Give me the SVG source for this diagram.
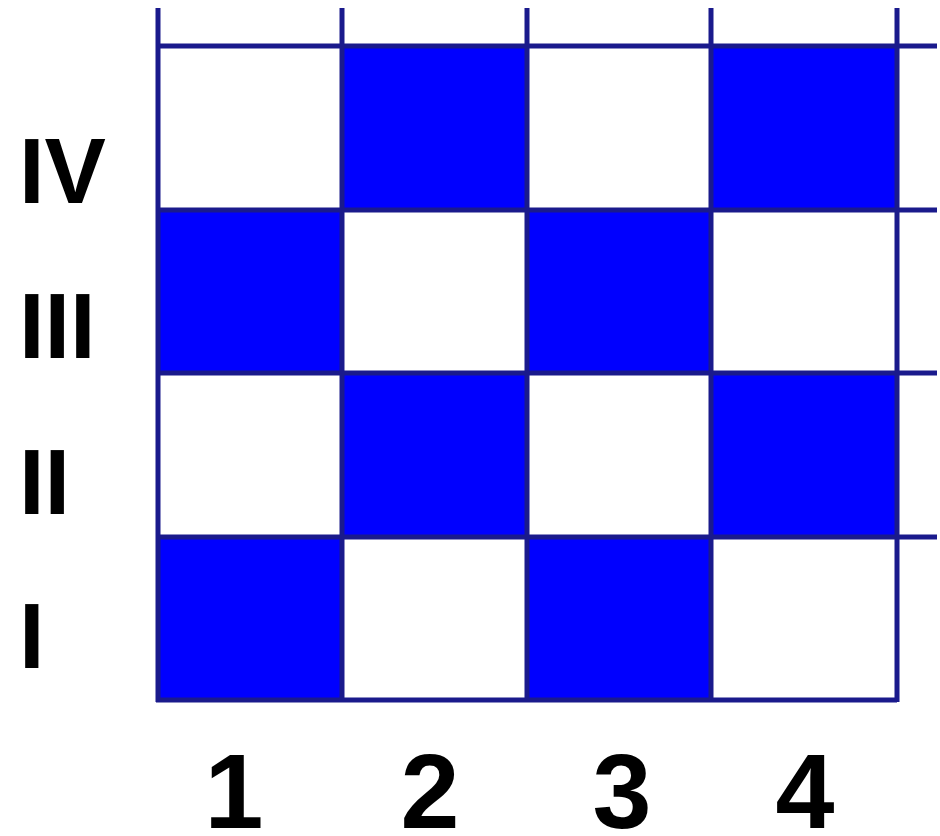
<svg xmlns="http://www.w3.org/2000/svg" width="940" height="836" viewBox="0 0 940 836">
<style>
.cell{fill:#0000ff}
.ln{stroke:#1a1a8c;stroke-width:5;fill:none}
.lbl{font-family:"Liberation Sans",Arial,sans-serif;font-weight:bold;fill:#000}
.row{font-size:92px}
.col{font-size:106px;text-anchor:middle}
</style>
<rect width="940" height="836" fill="#fff"/>
<g id="cells">
<rect class="cell" x="342" y="46" width="185" height="164"/>
<rect class="cell" x="711" y="46" width="186" height="164"/>
<rect class="cell" x="158" y="210" width="184" height="163"/>
<rect class="cell" x="527" y="210" width="184" height="163"/>
<rect class="cell" x="342" y="373" width="185" height="164"/>
<rect class="cell" x="711" y="373" width="186" height="164"/>
<rect class="cell" x="158" y="537" width="184" height="163"/>
<rect class="cell" x="527" y="537" width="184" height="163"/>
</g>
<g id="grid">
<path class="ln" d="M158 8V702M342 8V702M527 8V702M711 8V702M897 8V702"/>
<path class="ln" d="M158 46H937M158 210H937M158 373H937M158 537H937M156 700H897"/>
</g>
<g id="rows">
<text class="lbl row" x="19" y="203">IV</text>
<text class="lbl row" x="19" y="358">III</text>
<text class="lbl row" x="19" y="514">II</text>
<text class="lbl row" x="19" y="668">I</text>
</g>
<g id="cols">
<text class="lbl col" x="234" y="828">1</text>
<text class="lbl col" x="430" y="828">2</text>
<text class="lbl col" x="622" y="828">3</text>
<text class="lbl col" x="805" y="828">4</text>
</g>
</svg>
